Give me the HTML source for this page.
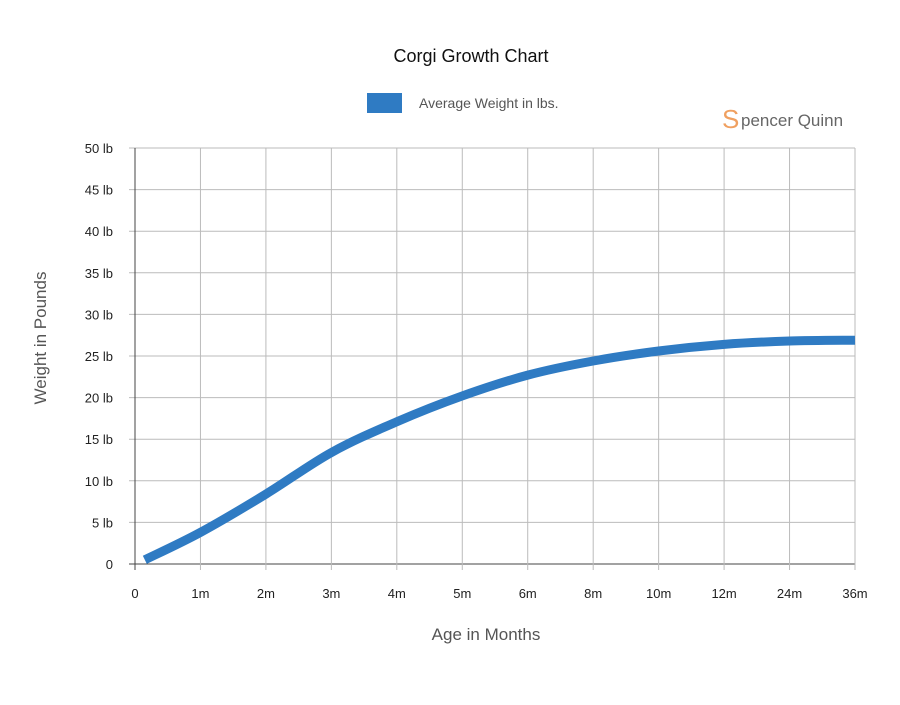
<!DOCTYPE html>
<html><head><meta charset="utf-8"><style>
body{margin:0;background:#fff;}
svg text{font-family:"Liberation Sans",sans-serif;}
</style></head><body>
<svg width="900" height="700" viewBox="0 0 900 700" xmlns="http://www.w3.org/2000/svg">
<rect width="900" height="700" fill="#fff"/>
<text x="471" y="62" font-size="18" text-anchor="middle" fill="#111">Corgi Growth Chart</text>
<g>
<rect x="367" y="93" width="35" height="20" fill="#2f7bc3"/>
<text x="419" y="108" font-size="14" fill="#555">Average Weight in lbs.</text>
</g>
<g>
<text x="722" y="128" font-size="26" fill="#f0a060">S</text>
<text x="741" y="126" font-size="17" fill="#666">pencer Quinn</text>
</g>
<g id="grid"></g>
<g id="axes"></g>
<path id="line" fill="none" stroke="#2f7bc3" stroke-width="9" stroke-linecap="butt"/>
<text x="486" y="640" font-size="17" text-anchor="middle" fill="#555">Age in Months</text>
<text transform="translate(46,338) rotate(-90)" font-size="17" text-anchor="middle" fill="#555">Weight in Pounds</text>
</svg>
<script>
const categories=["0","1m","2m","3m","4m","5m","6m","8m","10m","12m","24m","36m"];
const weights=[0.5,3.8,8.4,13.4,17.1,20.2,22.7,24.4,25.6,26.4,26.8,26.9];
const pointIndex=[0.15,1,2,3,4,5,6,7,8,9,10,11];
const yTicks=[0,5,10,15,20,25,30,35,40,45,50];
const yTickLabels=["0","5 lb","10 lb","15 lb","20 lb","25 lb","30 lb","35 lb","40 lb","45 lb","50 lb"];
const NS="http://www.w3.org/2000/svg";
const X0=135,X1=855,Y0=564,Y1=148;
const xs=i=>X0+(X1-X0)*i/(categories.length-1);
const ys=v=>Y0-(Y0-Y1)*v/50;
const grid=document.getElementById('grid'),axes=document.getElementById('axes');
function mk(tag,attrs,parent){const e=document.createElementNS(NS,tag);for(const k in attrs)e.setAttribute(k,attrs[k]);parent.appendChild(e);return e;}
yTicks.forEach((v,i)=>{
 const l=mk('line',{x1:X0-6,x2:X1,y1:ys(v),y2:ys(v),stroke:v===0?'#444':'#bbb','stroke-width':1},grid);
 
 
 const t=mk('text',{x:113,y:ys(v)+5,'font-size':13,'text-anchor':'end',fill:'#222'},axes);
 t.textContent=yTickLabels[i];
 
 
});
categories.forEach((c,i)=>{
 const l=mk('line',{x1:xs(i),x2:xs(i),y1:Y1,y2:Y0+6,stroke:i===0?'#444':'#bbb','stroke-width':1},grid);
 
 
 const t=mk('text',{x:xs(i),y:598,'font-size':13,'text-anchor':'middle',fill:'#222'},axes);
 t.textContent=c;
 
 
});
const pts=weights.map((w,i)=>[xs(pointIndex[i]),ys(w)]);
let d="M"+pts[0][0]+","+pts[0][1];
for(let i=0;i<pts.length-1;i++){
 const p0=pts[Math.max(0,i-1)],p1=pts[i],p2=pts[i+1],p3=pts[Math.min(pts.length-1,i+2)];
 const c1=[p1[0]+(p2[0]-p0[0])/6,p1[1]+(p2[1]-p0[1])/6];
 const c2=[p2[0]-(p3[0]-p1[0])/6,p2[1]-(p3[1]-p1[1])/6];
 d+=` C${c1[0]},${c1[1]} ${c2[0]},${c2[1]} ${p2[0]},${p2[1]}`;
}
document.getElementById('line').setAttribute('d',d);
</script>
</body></html>
